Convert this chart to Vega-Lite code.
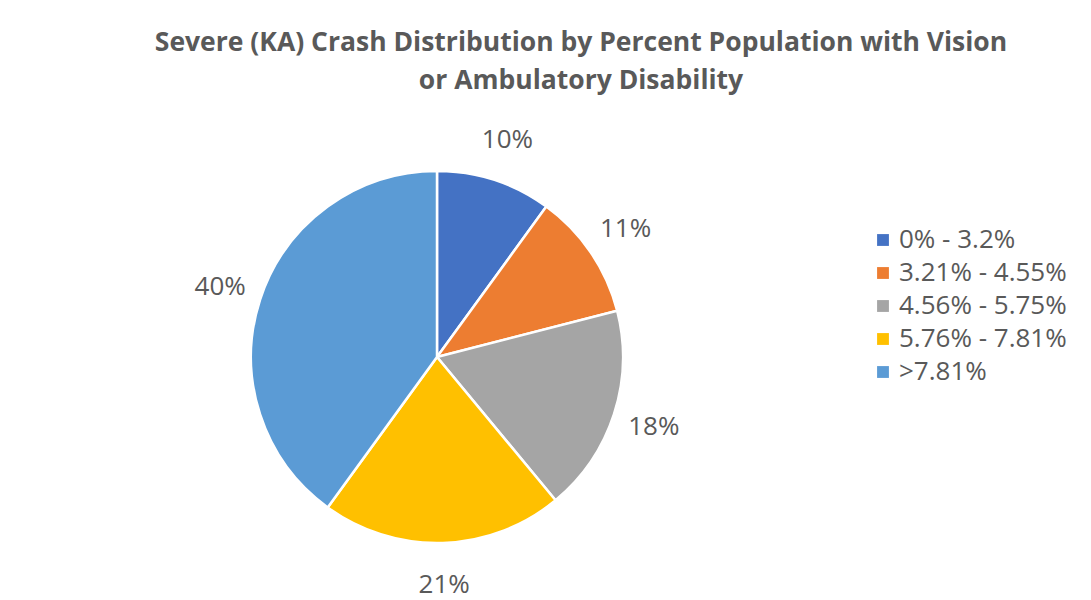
{
  "$schema": "https://vega.github.io/schema/vega-lite/v6.json",
  "width": 874,
  "height": 486,
  "autosize": {"type": "none"},
  "padding": {"left": 0, "top": 114, "right": 217, "bottom": 0},
  "background": "white",
  "config": {"view": {"stroke": null}, "font": "Open Sans"},
  "title": {
    "text": ["Severe (KA) Crash Distribution by Percent Population with Vision", "or Ambulatory Disability"],
    "anchor": "middle",
    "frame": "group",
    "dx": 144,
    "offset": 20,
    "font": "Open Sans",
    "fontSize": 26.5,
    "fontWeight": "bold",
    "color": "#595959",
    "lineHeight": 38
  },
  "data": {
    "values": [
      {"category": "0% - 3.2%", "value": 10, "label": "10%", "order": 1},
      {"category": "3.21% - 4.55%", "value": 11, "label": "11%", "order": 2},
      {"category": "4.56% - 5.75%", "value": 18, "label": "18%", "order": 3},
      {"category": "5.76% - 7.81%", "value": 21, "label": "21%", "order": 4},
      {"category": ">7.81%", "value": 40, "label": "40%", "order": 5}
    ]
  },
  "encoding": {
    "theta": {"field": "value", "type": "quantitative", "stack": true},
    "order": {"field": "order", "type": "quantitative"}
  },
  "layer": [
    {
      "mark": {"type": "arc", "outerRadius": 186, "stroke": "white", "strokeWidth": 2.5},
      "encoding": {
        "color": {
          "field": "category",
          "type": "nominal",
          "sort": ["0% - 3.2%", "3.21% - 4.55%", "4.56% - 5.75%", "5.76% - 7.81%", ">7.81%"],
          "scale": {
            "domain": ["0% - 3.2%", "3.21% - 4.55%", "4.56% - 5.75%", "5.76% - 7.81%", ">7.81%"],
            "range": ["#4472C4", "#ED7D31", "#A5A5A5", "#FFC000", "#5B9BD5"]
          },
          "legend": {
            "title": null,
            "orient": "none",
            "legendX": 870,
            "legendY": 113,
            "symbolType": "square",
            "symbolSize": 140,
            "symbolStrokeWidth": 0,
            "labelFontSize": 26,
            "labelColor": "#595959",
            "labelFont": "Open Sans",
            "labelLimit": 400,
            "rowPadding": 7,
            "labelOffset": 3
          }
        }
      }
    },
    {
      "mark": {"type": "text", "radius": 228, "fontSize": 26, "color": "#595959", "font": "Open Sans"},
      "encoding": {
        "text": {"field": "label", "type": "nominal"}
      }
    }
  ]
}
